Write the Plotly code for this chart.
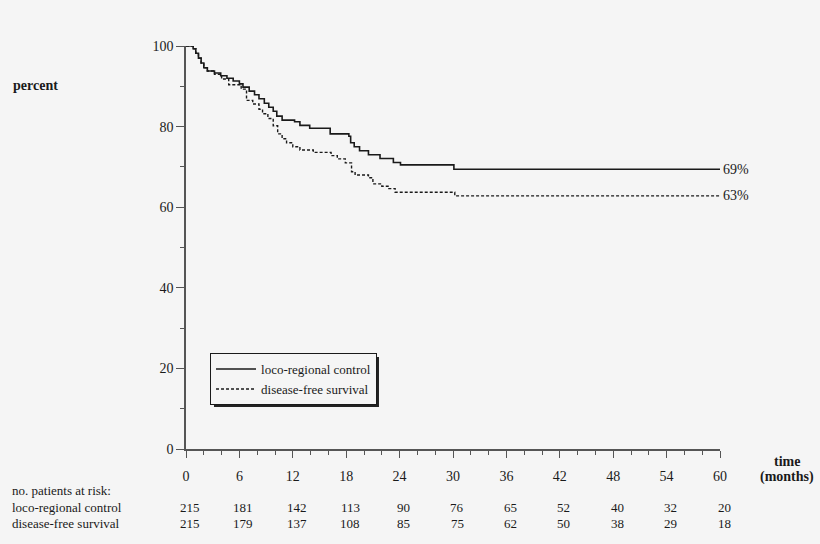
import plotly.graph_objects as go

# Kaplan-Meier style step curves (months, percent)
lrc_t = [0, 0.8, 1.1, 1.4, 1.7, 2.0, 2.4, 3.2, 3.9, 4.6, 5.3, 6.0, 6.4, 7.1, 7.7, 8.2, 8.8, 9.3, 9.8,
         10.2, 10.8, 12.2, 12.8, 13.9, 16.2, 18.3, 18.5, 18.9, 19.5, 20.5, 21.8, 23.3, 24.1, 30.1, 60]
lrc_s = [100, 99.3, 98.2, 97.0, 95.8, 94.6, 93.8, 93.3, 92.6, 92.0, 91.3, 90.6, 89.8, 88.8, 87.9, 86.9, 85.8, 84.8, 83.8,
         82.6, 81.6, 81.2, 80.3, 79.6, 78.2, 77.6, 76.0, 75.0, 74.0, 73.0, 72.1, 71.1, 70.5, 69.4, 69.4]

dfs_t = [0, 0.8, 1.1, 1.4, 1.7, 2.0, 2.4, 3.2, 4.0, 4.8, 6.2, 6.8, 7.5, 8.2, 8.6, 9.2, 9.8, 10.3, 10.8,
         11.3, 12.0, 12.8, 14.3, 16.3, 17.0, 17.9, 18.6, 19.0, 20.5, 21.0, 22.0, 22.8, 23.5, 30.2, 60]
dfs_s = [100, 99.3, 98.2, 97.0, 95.8, 94.6, 93.8, 93.0, 91.8, 90.4, 89.3, 86.5, 85.6, 84.3, 83.2, 82.0, 80.2, 78.2, 77.0,
         76.0, 75.0, 74.2, 73.6, 72.8, 72.0, 71.0, 68.8, 68.0, 67.3, 65.8, 65.2, 64.6, 63.7, 62.8, 62.8]

end_labels = ["69%", "63%"]

risk_months = [0, 6, 12, 18, 24, 30, 36, 42, 48, 54, 60]
risk_lrc = [215, 181, 142, 113, 90, 76, 65, 52, 40, 32, 20]
risk_dfs = [215, 179, 137, 108, 85, 75, 62, 50, 38, 29, 18]

FONT = "Liberation Serif"
INK = "#1a1a1a"
BG = "#f5f5f5"

fig = go.Figure()
fig.add_trace(go.Scatter(x=lrc_t, y=lrc_s, mode="lines", line=dict(shape="hv", color=INK, width=1.6),
                         name="loco-regional control"))
fig.add_trace(go.Scatter(x=dfs_t, y=dfs_s, mode="lines", line=dict(shape="hv", color=INK, width=1.4, dash="3px,2px"),
                         name="disease-free survival"))

ann = []
ann.append(dict(x=lrc_t[-1], y=lrc_s[-1], xref="x", yref="y", text=end_labels[0], showarrow=False,
                xanchor="left", yanchor="middle", xshift=1, font=dict(size=14)))
ann.append(dict(x=dfs_t[-1], y=dfs_s[-1], xref="x", yref="y", text=end_labels[1], showarrow=False,
                xanchor="left", yanchor="middle", xshift=1, font=dict(size=14)))

ann.append(dict(x=-0.33, y=-0.102, xref="paper", yref="paper", text="no. patients at risk:", showarrow=False,
                xanchor="left", yanchor="middle", font=dict(size=13)))
ann.append(dict(x=-0.33, y=-0.146, xref="paper", yref="paper", text="loco-regional control", showarrow=False,
                xanchor="left", yanchor="middle", font=dict(size=13)))
ann.append(dict(x=-0.33, y=-0.186, xref="paper", yref="paper", text="disease-free survival", showarrow=False,
                xanchor="left", yanchor="middle", font=dict(size=13)))
for m, a, b in zip(risk_months, risk_lrc, risk_dfs):
    ann.append(dict(x=m, y=-0.146, xref="x", yref="paper", text=str(a), showarrow=False, xshift=4,
                    xanchor="center", yanchor="middle", font=dict(size=13)))
    ann.append(dict(x=m, y=-0.186, xref="x", yref="paper", text=str(b), showarrow=False, xshift=4,
                    xanchor="center", yanchor="middle", font=dict(size=13)))

ann.append(dict(x=1.125, y=-0.030, xref="paper", yref="paper", text="<b>time</b>", showarrow=False,
                xanchor="center", yanchor="middle", font=dict(size=14)))
ann.append(dict(x=1.125, y=-0.069, xref="paper", yref="paper", text="<b>(months)</b>", showarrow=False,
                xanchor="center", yanchor="middle", font=dict(size=14)))
ann.append(dict(x=-0.281, y=0.903, xref="paper", yref="paper", text="<b>percent</b>", showarrow=False,
                xanchor="center", yanchor="middle", font=dict(size=14)))

fig.update_layout(
    width=820, height=544,
    margin=dict(l=186, r=100, t=46, b=95),
    paper_bgcolor=BG, plot_bgcolor=BG,
    font=dict(family=FONT, color=INK, size=14),
    annotations=ann,
    showlegend=True,
    legend=dict(x=0.045, y=0.238, xanchor="left", yanchor="top", bgcolor=BG,
                bordercolor=INK, borderwidth=1, font=dict(size=13), tracegroupgap=0,
                itemwidth=40),
    shapes=[dict(type="rect", xref="paper", yref="paper", x0=0.0524, x1=0.3614, y0=0.104, y1=0.228,
                 line=dict(width=0), fillcolor="#222", layer="below")],
)
fig.update_xaxes(range=[0, 60], showgrid=False, zeroline=False, showline=True, linecolor="#555", linewidth=1.5,
                 ticks="outside", tickcolor="#555", ticklen=7, tickwidth=1.2, dtick=6, tick0=0,
                 ticklabelstandoff=6, tickfont=dict(size=14),
                 minor=dict(ticks="outside", dtick=2, ticklen=4, tickcolor="#555", tickwidth=1))
fig.update_yaxes(range=[0, 100], showgrid=False, zeroline=False, showline=True, linecolor="#555", linewidth=1.5,
                 ticks="outside", tickcolor="#555", ticklen=8, tickwidth=1.2, dtick=20, tick0=0,
                 tickfont=dict(size=14),
                 minor=dict(ticks="outside", dtick=10, ticklen=4, tickcolor="#555", tickwidth=1))

fig.write_html("out.html", config={"displayModeBar": False},
               post_script="document.body.style.margin='0px';document.body.style.background='%s';" % BG)
